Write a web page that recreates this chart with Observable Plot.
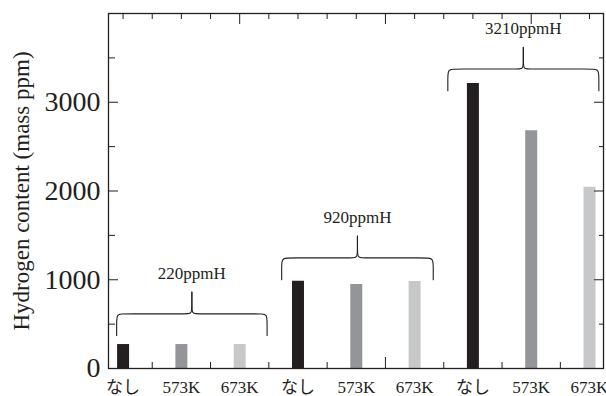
<!DOCTYPE html>
<html>
<head>
<meta charset="utf-8">
<script src="https://cdn.jsdelivr.net/npm/d3@7"></script>
<script src="https://cdn.jsdelivr.net/npm/@observablehq/plot@0.6"></script>
<style>
  html, body { margin: 0; padding: 0; background: #fff; }
  #chart svg { display: block; }
</style>
</head>
<body>
<div id="chart"></div>
<script>
// ---- data ----
const categories = ["なし", "573K", "673K", "なし", "573K", "673K", "なし", "573K", "673K"];
const treatments = ["なし", "573K", "673K"];
const values = [270, 270, 270, 983, 946, 980, 3212, 2680, 2042];
const groupLabels = ["220ppmH", "920ppmH", "3210ppmH"];
const braceStart = [0.89, 3.72, 6.57];
const braceEnd = [3.47, 6.32, 9.16];
const braceLevel = [616, 1246, 3374];
const yTickLabels = [0, 1000, 2000, 3000];
const yLabel = "Hydrogen content (mass ppm)";

// ---- derived tables ----
const positions = categories.map((_, i) => i + 1);
const bars = categories.map((c, i) => ({pos: i + 1, treatment: c, value: values[i]}));

const D = 245;      // brace arm depth (value units)
const ce = 0.13;    // end corner width (x units)
const ct = 0.09;    // tip corner width (x units)
const bracePts = [];
groupLabels.forEach((g, i) => {
  const s = braceStart[i], e = braceEnd[i], L = braceLevel[i], m = (s + e) / 2;
  const left = [[s, L - D], [s, L - D * 0.45], [s, L], [s + ce, L], [m - ct, L], [m, L], [m, L + D * 0.45], [m, L + D]];
  const right = [[m, L + D], [m, L + D * 0.45], [m, L], [m + ct, L], [e - ce, L], [e, L], [e, L - D * 0.45], [e, L - D]];
  left.forEach(([x, y]) => bracePts.push({x, y, z: g + "L"}));
  right.forEach(([x, y]) => bracePts.push({x, y, z: g + "R"}));
});
const braceLabels = groupLabels.map((g, i) => ({
  text: g, x: (braceStart[i] + braceEnd[i]) / 2, y: braceLevel[i] + D
}));

const topMinor = d3.range(1, 9.01, 0.5).filter(v => ![3, 5.5, 8].includes(v));
const topMajor = [3, 5.5, 8];
const bottomMinor = [1.5, 2.5, 3.5, 4.5, 6.5, 7.5, 8.5];
const bottomMajor = [5.5];
const yMajor = [1000, 2000, 3000];
const yMinor = [500, 1500, 2500, 3500];

const ink = "#231f20";
const blank = () => "";

const chart = Plot.plot({
  width: 606,
  height: 396,
  marginLeft: 108,
  marginRight: 3,
  marginTop: 13,
  marginBottom: 28,
  x: {type: "linear", domain: [0.75, 9.24]},
  y: {domain: [0, 4000]},
  color: {domain: treatments, range: ["#231f20", "#939598", "#c7c8ca"]},
  style: {fontFamily: "'Liberation Serif', 'Noto Sans CJK JP', serif", color: ink, background: "#fff"},
  marks: [
    Plot.ruleX(bars, {x: "pos", y1: 0, y2: "value", stroke: "treatment", strokeWidth: 12}),
    Plot.line(bracePts, {x: "x", y: "y", z: "z", curve: "basis", stroke: ink, strokeWidth: 1.1}),
    Plot.text(braceLabels, {x: "x", y: "y", text: "text", dy: -19, fontSize: 17, fill: ink}),
    Plot.frame({stroke: ink, strokeWidth: 1.3}),
    // bottom axis: labels + inward ticks
    Plot.axisX({anchor: "bottom", ticks: positions, tickSize: 0, tickPadding: 12, tickFormat: d => categories[d - 1], fontSize: 17, label: null, fill: ink}),
    Plot.axisX({anchor: "bottom", ticks: bottomMinor, tickSize: -6, tickFormat: blank, label: null, stroke: ink}),
    Plot.axisX({anchor: "bottom", ticks: bottomMajor, tickSize: -11, tickFormat: blank, label: null, stroke: ink}),
    // top axis ticks
    Plot.axisX({anchor: "top", ticks: topMinor, tickSize: -5, tickFormat: blank, label: null, stroke: ink}),
    Plot.axisX({anchor: "top", ticks: topMajor, tickSize: -10, tickFormat: blank, label: null, stroke: ink}),
    // left axis
    Plot.axisY({anchor: "left", ticks: yTickLabels, tickSize: 0, tickPadding: 8, tickFormat: d => String(d), fontSize: 28, label: null, fill: ink}),
    Plot.axisY({anchor: "left", ticks: yMajor, tickSize: -10, tickFormat: blank, label: null, stroke: ink}),
    Plot.axisY({anchor: "left", ticks: yMinor, tickSize: -7, tickFormat: blank, label: null, stroke: ink}),
    // right axis
    Plot.axisY({anchor: "right", ticks: yMajor, tickSize: -10, tickFormat: blank, label: null, stroke: ink}),
    Plot.axisY({anchor: "right", ticks: yMinor, tickSize: -5, tickFormat: blank, label: null, stroke: ink}),
    // y label
    Plot.text([yLabel], {frameAnchor: "left", rotate: -90, dx: -87, textAnchor: "middle", fontSize: 23, fill: ink})
  ]
});
document.getElementById("chart").appendChild(chart);
</script>
</body>
</html>
